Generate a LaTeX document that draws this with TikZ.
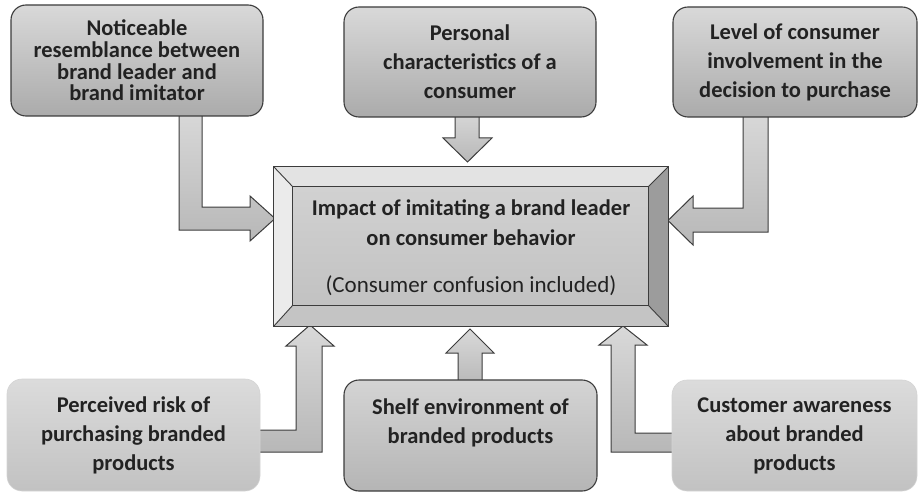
\documentclass[tikz,border=0pt]{standalone}
\usepackage{fontspec}
\setmainfont{Carlito}
\usetikzlibrary{calc}
\definecolor{edgegray}{HTML}{3C3C3C}
\definecolor{inkgray}{HTML}{222222}
\begin{document}
\begin{tikzpicture}[x=1pt,y=-1pt,
  boxtext/.style={text=inkgray,align=center,font=\fontsize{22.5}{29}\selectfont\bfseries},
  topbox/.style={boxtext,rectangle,rounded corners=15pt,draw=edgegray,line width=1.1pt,
                 top color=black!15,bottom color=black!33,inner sep=0pt},
  softbox/.style={boxtext,rectangle,rounded corners=15pt,draw=black!17,line width=0.6pt,
                 top color=black!14,bottom color=black!24,inner sep=0pt},
  blockarrow/.style={draw=edgegray,line width=1pt,line join=miter,
                 top color=black!15,bottom color=black!28},
  bevel/.style={draw=edgegray,line width=0.9pt,line join=miter}]
\useasboundingbox (0,0) rectangle (918,492);

% ---- block arrows (drawn first, boxes cover their tails) ----
% top left: down, then right into the hub
\draw[blockarrow] (179,110) -- (202,110) -- (202,207) -- (250,207) -- (250,196)
  -- (275,218.5) -- (250,241) -- (250,230) -- (179,230) -- cycle;
% top centre: straight down
\draw[blockarrow] (455,110) -- (479,110) -- (479,138) -- (492,138) -- (467.5,162)
  -- (443,138) -- (455,138) -- cycle;
% top right: down, then left into the hub
\draw[blockarrow] (743,110) -- (768,110) -- (768,232) -- (693,232) -- (693,245)
  -- (668,220.5) -- (693,196) -- (693,208) -- (743,208) -- cycle;
% bottom left: right, then up into the hub
\draw[blockarrow] (254,430) -- (296,430) -- (296,346) -- (286,346) -- (310,325)
  -- (334,346) -- (322,346) -- (322,452) -- (254,452) -- cycle;
% bottom centre: straight up
\draw[blockarrow] (458,386) -- (458,353) -- (446,353) -- (470,329) -- (494,353)
  -- (482,353) -- (482,386) -- cycle;
% bottom right: left, then up into the hub
\draw[blockarrow] (678,433) -- (635,433) -- (635,345) -- (647,345) -- (623,326)
  -- (599,345) -- (611,345) -- (611,452) -- (678,452) -- cycle;

% ---- outer factor boxes ----
\node[topbox,minimum width=252pt,minimum height=111pt,
      font=\fontsize{22.5}{21.7}\selectfont\bfseries] (tl) at (137,60.5)
  {Noticeable\\resemblance between\\brand leader and\\brand imitator};
\node[topbox,minimum width=252pt,minimum height=110pt] (tc) at (470,62)
  {Personal\\characteristics of a\\consumer};
\node[topbox,minimum width=244pt,minimum height=110pt] (tr) at (795,62)
  {Level of consumer\\involvement in the\\decision to purchase};
\node[softbox,minimum width=253pt,minimum height=112pt] (bl) at (133.5,435)
  {Perceived risk of\\purchasing branded\\products};
\node[topbox,minimum width=253pt,minimum height=111pt,
      top color=black!17,bottom color=black!29] (bc) at (470.5,435.5)
  {Shelf environment of\\branded products\\\mbox{}};
\node[softbox,minimum width=245pt,minimum height=111pt] (br) at (794.5,435.5)
  {Customer awareness\\about branded\\products};

% ---- central bevelled box ----
\node[rectangle,minimum width=394pt,minimum height=159pt,inner sep=0pt] (hub) at (471,246.5) {};
\coordinate (inw) at ($(hub.north west)+(19,20)$);
\coordinate (ine) at ($(hub.north east)+(-20,20)$);
\coordinate (isw) at ($(hub.south west)+(19,-21)$);
\coordinate (ise) at ($(hub.south east)+(-20,-21)$);
\fill[black!11] (hub.north west) -- (hub.north east) -- (ine) -- (inw) -- cycle;
\fill[black!8] (hub.north west) -- (inw) -- (isw) -- (hub.south west) -- cycle;
\fill[black!39] (hub.north east) -- (hub.south east) -- (ise) -- (ine) -- cycle;
\fill[black!23] (hub.south west) -- (isw) -- (ise) -- (hub.south east) -- cycle;
\shade[top color=black!18,bottom color=black!24] (inw) rectangle (ise);
\draw[bevel] (hub.north west) rectangle (hub.south east);
\draw[bevel] (inw) rectangle (ise);
\draw[bevel] (hub.north west) -- (inw);
\draw[bevel] (hub.north east) -- (ine);
\draw[bevel] (hub.south west) -- (isw);
\draw[bevel] (hub.south east) -- (ise);
\node[text=inkgray,align=center,font=\fontsize{22.5}{30}\selectfont] (hubtext) at (471,248)
  {\bfseries Impact of imitating a brand leader\\
   \bfseries on consumer behavior\\[17pt]
   \fontsize{23}{30}\selectfont (Consumer confusion included)};
\end{tikzpicture}
\end{document}
